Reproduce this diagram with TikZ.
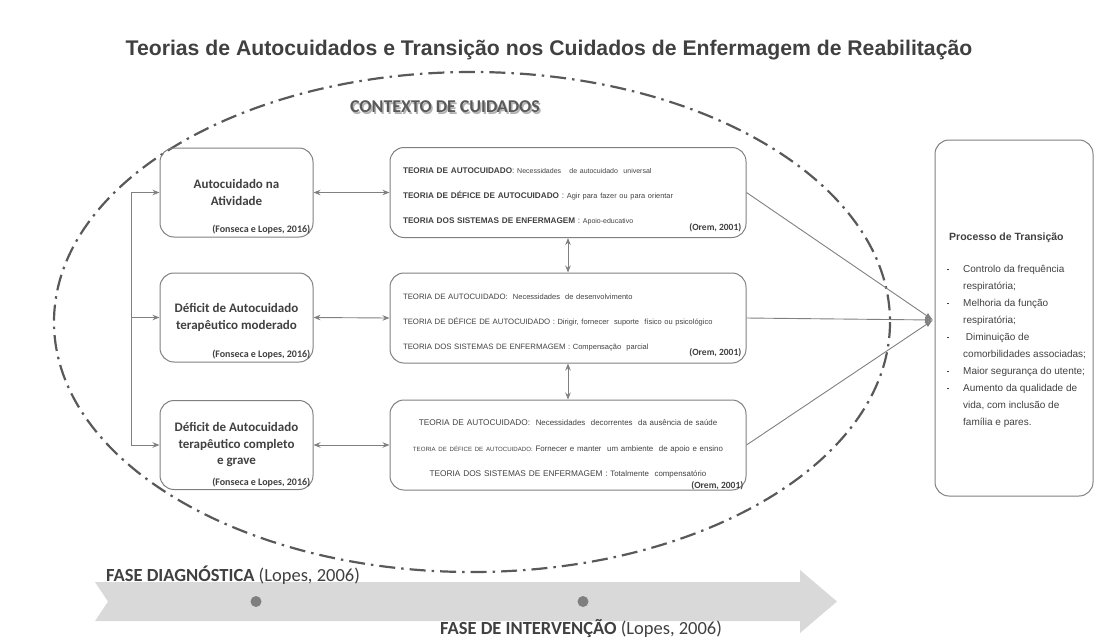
\documentclass[tikz,border=0pt]{standalone}
\usepackage{fontspec}
\setmainfont{Liberation Sans}
\newfontfamily\calfont{Carlito}
\usetikzlibrary{arrows.meta,positioning}

\definecolor{txtgrey}{HTML}{404040}
\definecolor{linegrey}{HTML}{808080}
\definecolor{dashgrey}{HTML}{595959}
\definecolor{bandgrey}{HTML}{D9D9D9}
\definecolor{dotgrey}{HTML}{7F7F7F}

\newcommand{\topstrut}{\rule{0pt}{14pt}}
\newcommand{\dotitem}{\makebox[16pt][l]{\raisebox{2pt}{\rule{1.8pt}{1.8pt}}}}

\begin{document}
\begin{tikzpicture}[x=1pt,y=-1pt]
            \tikzstyle{every node} = [text=txtgrey, inner sep=0pt]
            \tikzstyle{box} = [draw=linegrey, line width=1pt, rounded corners=14pt, align=center]
            \tikzstyle{carebox} = [box, minimum width=153pt, minimum height=89pt, font=\calfont\bfseries\fontsize{13}{16.5}\selectfont]
            \tikzstyle{theorybox} = [box, minimum width=356pt, minimum height=90pt, text width=330pt, font=\fontsize{8}{25}\selectfont]
            \tikzstyle{cite} = [anchor=south east, font=\calfont\bfseries\fontsize{10}{12}\selectfont]
            \tikzstyle{link} = [draw=linegrey, line width=0.9pt]
            \tikzstyle{arr} = [link, -{Stealth[length=7pt,width=5.5pt]}]
            \tikzstyle{darr} = [link, {Stealth[length=7pt,width=5.5pt]}-{Stealth[length=7pt,width=5.5pt]}]
            \tikzstyle{meet} = [link, -{Latex[length=8pt,width=6pt]}]
            \useasboundingbox (0,0) rectangle (1099,638);

            % title
            \node[font=\bfseries\fontsize{21.2}{24}\selectfont] (title) at (549,50) {Teorias de Autocuidados e Transição nos Cuidados de Enfermagem de Reabilitação};

            % context of care
            \draw[dashgrey, line width=2.2pt, dash pattern=on 16pt off 6pt on 2.5pt off 6pt] (472,322) ellipse (418 and 250);
            \node[text=black!30, font=\calfont\bfseries\fontsize{18}{21}\selectfont] (ctx-shadow) at (446.5,108.5) {CONTEXTO DE CUIDADOS};
            \node[text=dashgrey, font=\calfont\bfseries\fontsize{18}{21}\selectfont] (ctx) at (445,107) {CONTEXTO DE CUIDADOS};

            % self-care deficit boxes
            \node[carebox] (act) at (236.5,192.5) {Autocuidado na\\Atividade};
            \node[carebox] (mod) at (236.5,317.5) {Déficit de Autocuidado\\terapêutico moderado};
            \node[carebox] (grave) at (236.5,445) {Déficit de Autocuidado\\terapêutico completo\\e grave};
            \node[cite] (act-ref) at ([shift={(-3,-3)}]act.south east) {(Fonseca e Lopes, 2016)};
            \node[cite] (mod-ref) at ([shift={(-3,-3)}]mod.south east) {(Fonseca e Lopes, 2016)};
            \node[cite] (grave-ref) at ([shift={(-3,-3)}]grave.south east) {(Fonseca e Lopes, 2016)};

            % Orem theory boxes
            \node[theorybox, align=left, font=\fontsize{8.2}{25}\selectfont] (th1) at (568,192.5) {\topstrut\textbf{TEORIA DE AUTOCUIDADO}: {\fontsize{7}{7}\selectfont Necessidades\ \ \ de autocuidado\ \ universal}\\
                \textbf{TEORIA DE DÉFICE DE AUTOCUIDADO} : {\fontsize{7.4}{7}\selectfont Agir para fazer ou para orientar}\\
                \textbf{TEORIA DOS SISTEMAS DE ENFERMAGEM} : {\fontsize{7}{7}\selectfont Apoio-educativo}};
            \node[theorybox, align=left, font=\fontsize{7.8}{25}\selectfont] (th2) at (568,318) {\topstrut TEORIA DE AUTOCUIDADO:\ \ {\fontsize{7.5}{7}\selectfont Necessidades\ \ de desenvolvimento}\\
                TEORIA DE DÉFICE DE AUTOCUIDADO : {\fontsize{7.5}{7}\selectfont Dirigir, fornecer\ \ suporte\ \ físico ou psicológico}\\
                TEORIA DOS SISTEMAS DE ENFERMAGEM : {\fontsize{7.5}{7}\selectfont Compensação\ \ parcial}};
            \node[theorybox, align=center, font=\fontsize{8.3}{25.5}\selectfont] (th3) at (568,445) {\topstrut TEORIA DE AUTOCUIDADO:\ \ {\fontsize{7.9}{7}\selectfont Necessidades\ \ decorrentes\ \ da ausência de saúde}\\
                {\fontsize{6.1}{7}\selectfont TEORIA DE DÉFICE DE AUTOCUIDADO:} {\fontsize{7.9}{7}\selectfont Fornecer e manter\ \ um ambiente\ \ de apoio e ensino}\\
                TEORIA DOS SISTEMAS DE ENFERMAGEM : {\fontsize{7.9}{7}\selectfont Totalmente\ \ compensatório}};
            \node[cite, font=\calfont\bfseries\fontsize{9.5}{11}\selectfont] (th1-ref) at ([shift={(-5,-6)}]th1.south east) {(Orem, 2001)};
            \node[cite, font=\calfont\bfseries\fontsize{9.5}{11}\selectfont] (th2-ref) at ([shift={(-5,-6)}]th2.south east) {(Orem, 2001)};
            \node[cite, font=\calfont\bfseries\fontsize{9.5}{11}\selectfont] (th3-ref) at ([shift={(-3,0)}]th3.south east) {(Orem, 2001)};

            % transition process
            \node[box, minimum width=158pt, minimum height=356pt] (proc) at (1014,318) {};
            \node[anchor=west, font=\bfseries\fontsize{10.5}{12}\selectfont] (proc-title) at (949,238) {Processo de Transição};
            \node[anchor=north west, align=left, font=\fontsize{10}{17}\selectfont] (proc-list) at (947,265)
                {\dotitem Controlo da frequência\\
                 \hspace*{16pt}respiratória;\\
                 \dotitem Melhoria da função\\
                 \hspace*{16pt}respiratória;\\
                 \dotitem\ Diminuição de\\
                 \hspace*{16pt}comorbilidades associadas;\\
                 \dotitem Maior segurança do utente;\\
                 \dotitem Aumento da qualidade de\\
                 \hspace*{16pt}vida, com inclusão de\\
                 \hspace*{16pt}família e pares.};

            % connectors
            \coordinate (br-top) at (131,192.5);
            \coordinate (br-mid) at (131,317.5);
            \coordinate (br-bot) at (131,445);
            \coordinate (join) at (933,320);
            \path (br-top) edge[link] (br-bot);
            \path (br-top) edge[arr] (act.west);
            \path (br-mid) edge[arr] (mod.west);
            \path (br-bot) edge[arr] (grave.west);
            \path (th1.west) edge[darr] (act.east);
            \path (th2.west) edge[darr] (mod.east);
            \path (th3.west) edge[darr] (grave.east);
            \path (th1.south) edge[darr] (th2.north);
            \path (th2.south) edge[darr] (th3.north);
            \path (th1.east) edge[meet] (join);
            \path (th2.east) edge[meet] (join);
            \path (th3.east) edge[meet] (join);

            % phases
            \fill[bandgrey] (95,582) -- (800,582) -- (800,570) -- (837,601.5) -- (800,633) -- (800,621) -- (95,621) -- (108,601.5) -- cycle;
            \fill[dotgrey] (256,601.5) circle (5.5);
            \fill[dotgrey] (583,601.5) circle (5.5);
            \node[anchor=base west, font=\calfont\fontsize{18.5}{21}\selectfont] (diag) at (106,581) {\textbf{FASE DIAGNÓSTICA} (Lopes, 2006)};
            \node[anchor=base west, font=\calfont\fontsize{18.5}{21}\selectfont] (interv) at (440,634) {\textbf{FASE DE INTERVENÇÃO} (Lopes, 2006)};
      \end{tikzpicture}
\end{document}
